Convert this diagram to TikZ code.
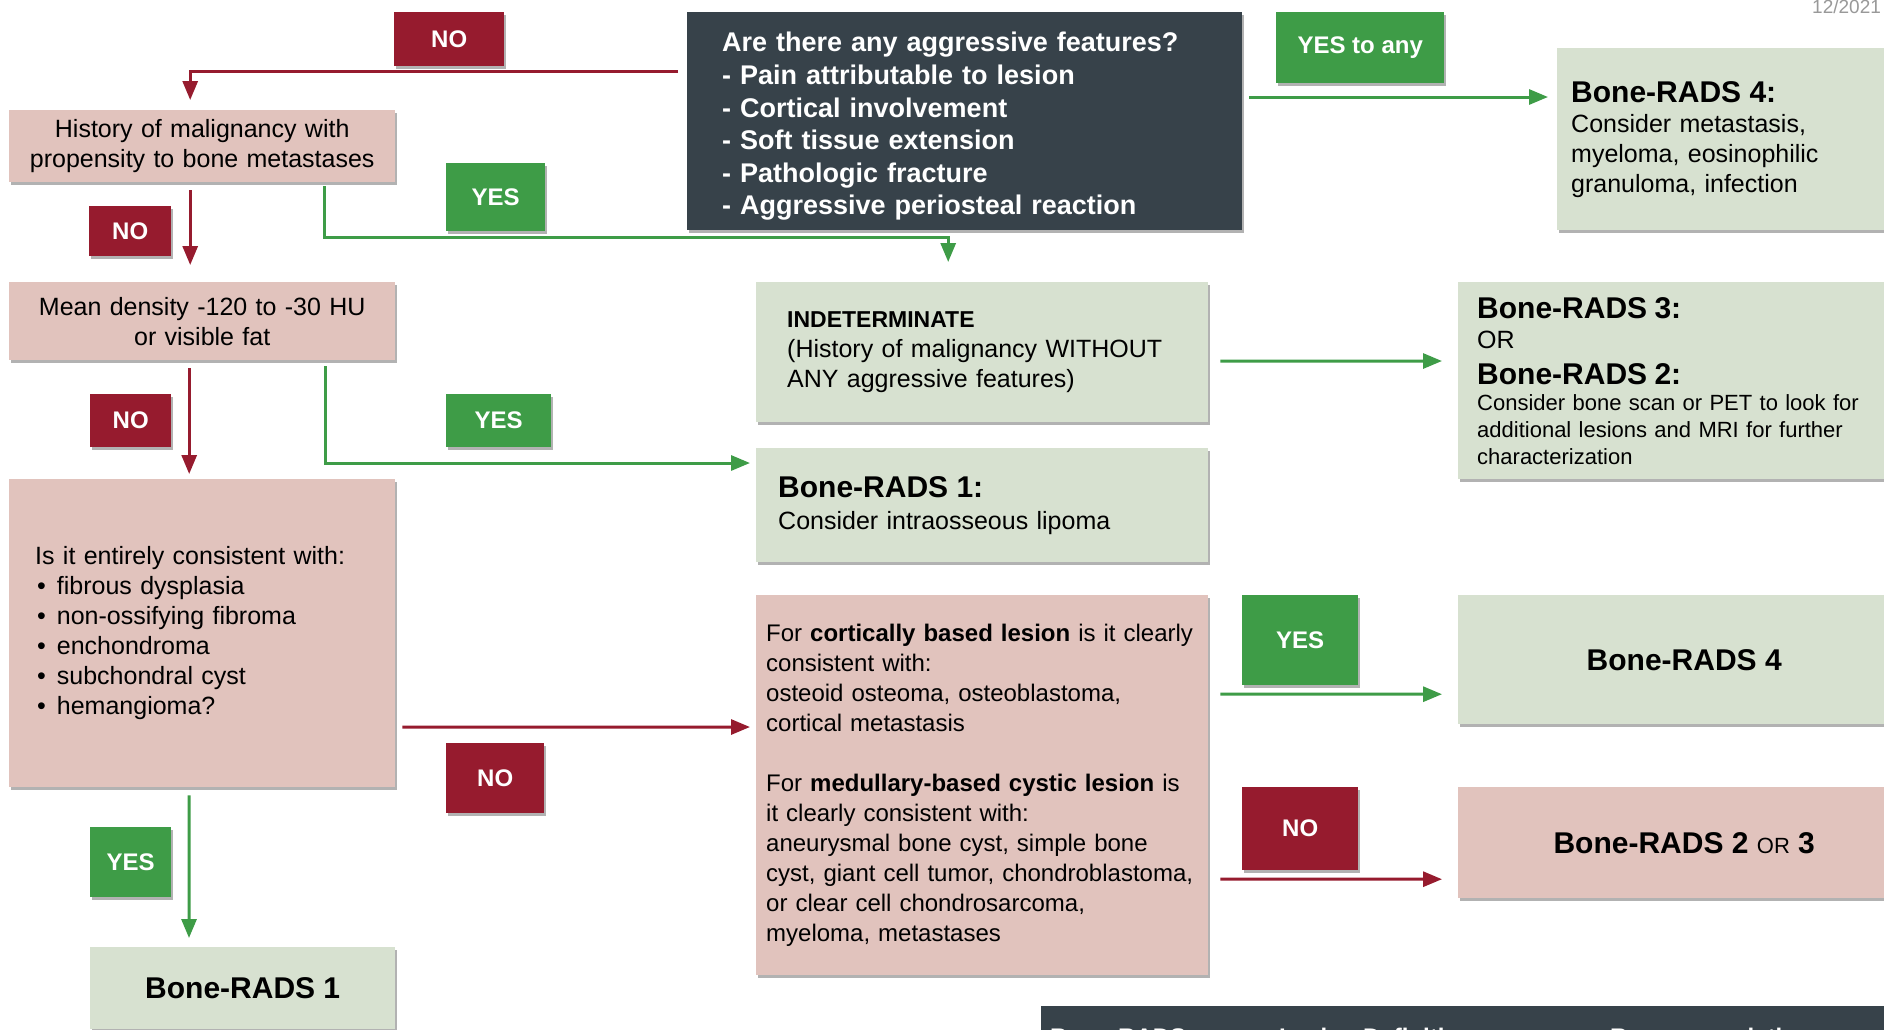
\documentclass[tikz,border=0pt]{standalone}
\usepackage{fontspec}
\setmainfont{Liberation Sans}
\usetikzlibrary{arrows.meta,shadows}
\definecolor{slate}{RGB}{55,66,74}
\definecolor{bonered}{RGB}{150,27,46}
\definecolor{yesgreen}{RGB}{62,156,71}
\definecolor{bonepink}{RGB}{225,195,189}
\definecolor{bonegreen}{RGB}{215,225,208}
\newcommand{\setfs}[2]{\fontsize{#1}{#2}\selectfont}

\begin{document}
\begin{tikzpicture}[x=1pt,y=-1pt,
  boxshadow/.style={drop shadow={shadow xshift=2pt,shadow yshift=-2.5pt,opacity=.3,fill=black}},
  pinkbox/.style={boxshadow,fill=bonepink,anchor=north west,inner ysep=0pt,font=\setfs{25}{30}},
  greenbox/.style={boxshadow,fill=bonegreen,anchor=north west,inner ysep=0pt,font=\setfs{25}{30}},
  darkbox/.style={boxshadow,fill=slate,text=white,anchor=north west,inner ysep=0pt},
  nolbl/.style={boxshadow,fill=bonered,text=white,anchor=north west,font=\setfs{24}{24}\bfseries},
  yeslbl/.style={boxshadow,fill=yesgreen,text=white,anchor=north west,font=\setfs{24}{24}\bfseries},
  noarr/.style={draw=bonered,line width=3pt,-{Triangle[length=19pt,width=15pt]}},
  yesarr/.style={draw=yesgreen,line width=3pt,-{Triangle[length=19pt,width=15pt]}}]
\useasboundingbox (0,0) rectangle (1884,1029);
\clip (0,0) rectangle (1884,1029);
\fill[white] (0,0) rectangle (1884,1029);

% question boxes
\node[darkbox,minimum width=555pt,minimum height=218pt,text width=485pt,inner xsep=35pt,align=left,font=\setfs{27}{32.6}\bfseries] (aggr) at (687,12) {\rule{0pt}{30pt}Are there any aggressive features?\\- Pain attributable to lesion\\- Cortical involvement\\- Soft tissue extension\\- Pathologic fracture\\- Aggressive periosteal reaction};
\node[pinkbox,minimum width=386pt,minimum height=72pt,text width=370pt,inner xsep=8pt,align=center] (hist) at (9,110) {History of malignancy with\\propensity to bone metastases};
\node[pinkbox,minimum width=386pt,minimum height=78pt,text width=370pt,inner xsep=8pt,align=center] (mean) at (9,282) {Mean density -120 to -30 HU\\or visible fat};
\node[pinkbox,minimum width=386pt,minimum height=308pt,text width=334pt,inner xsep=26pt,align=left] (cons) at (9,479) {Is it entirely consistent with:\\
\hspace*{2pt}\textbullet\hspace{11pt}fibrous dysplasia\\
\hspace*{2pt}\textbullet\hspace{11pt}non-ossifying fibroma\\
\hspace*{2pt}\textbullet\hspace{11pt}enchondroma\\
\hspace*{2pt}\textbullet\hspace{11pt}subchondral cyst\\
\hspace*{2pt}\textbullet\hspace{11pt}hemangioma?};
\node[pinkbox,minimum width=452pt,minimum height=380pt,text width=432pt,inner xsep=10pt,align=left,font=\setfs{24}{30}] (cort) at (756,595) {For \textbf{cortically based lesion} is it clearly\\
consistent with:\\
osteoid osteoma, osteoblastoma,\\
cortical metastasis\\[30pt]
For \textbf{medullary-based cystic lesion} is\\
it clearly consistent with:\\
aneurysmal bone cyst, simple bone\\
cyst, giant cell tumor, chondroblastoma,\\
or clear cell chondrosarcoma,\\
myeloma, metastases};

% results
\node[greenbox,minimum width=353pt,minimum height=182pt,text width=325pt,inner xsep=14pt,align=left] (brfourtop) at (1557,48) {{\setfs{30}{30}\bfseries Bone-RADS 4:}\\Consider metastasis,\\myeloma, eosinophilic\\granuloma, infection};
\node[greenbox,minimum width=452pt,minimum height=140pt,text width=390pt,inner xsep=31pt,align=left] (indet) at (756,282) {{\setfs{23}{30}\bfseries INDETERMINATE}\\(History of malignancy WITHOUT\\ANY aggressive features)};
\node[greenbox,minimum width=452pt,minimum height=114pt,text width=408pt,inner xsep=22pt,align=left,font=\setfs{25}{32}] (brone) at (756,448) {{\setfs{30}{32}\bfseries Bone-RADS 1:}\\Consider intraosseous lipoma};
\node[greenbox,minimum width=452pt,minimum height=197pt,text width=414pt,inner xsep=19pt,align=left,font=\setfs{22}{27}] (brthree) at (1458,282) {{\setfs{30}{30}\bfseries Bone-RADS 3:}\\[3pt]
{\setfs{25}{25}OR}\\[9pt]
{\setfs{30}{30}\bfseries Bone-RADS 2:}\\[-1pt]
Consider bone scan or PET to look for\\
additional lesions and MRI for further\\
characterization};
\node[greenbox,minimum width=452pt,minimum height=129pt,font=\setfs{30}{30}\bfseries] (brfour) at (1458,595) {Bone-RADS 4};
\node[pinkbox,minimum width=452pt,minimum height=111pt,font=\setfs{30}{30}\bfseries] (brtwo) at (1458,787) {Bone-RADS 2 {\setfs{22}{22}\mdseries OR} 3};
\node[greenbox,minimum width=305pt,minimum height=82pt,font=\setfs{30}{30}\bfseries] (brbot) at (90,947) {Bone-RADS 1};

% table header, cut off at the bottom
\node[darkbox,minimum width=860pt,minimum height=60pt] (legend) at (1041,1006) {};
\node[anchor=base west,text=white,font=\setfs{24}{24}\bfseries,inner sep=0pt] (lgrads) at (1050,1045) {Bone-RADS};
\node[anchor=base west,text=white,font=\setfs{24}{24}\bfseries,inner sep=0pt] (lgdef) at (1279,1045) {Lesion Definition};
\node[anchor=base west,text=white,font=\setfs{24}{24}\bfseries,inner sep=0pt] (lgrec) at (1610,1045) {Recommendation};
\node[anchor=base west,text=black!40,font=\setfs{19}{19},inner sep=0pt] (date) at (1812,13) {12/2021};

% labels
\node[nolbl,minimum width=110pt,minimum height=54pt] (noa) at (394,12) {NO};
\node[yeslbl,minimum width=99pt,minimum height=68pt] (yesa) at (446,163) {YES};
\node[nolbl,minimum width=82pt,minimum height=50pt] (nob) at (89,206) {NO};
\node[nolbl,minimum width=81pt,minimum height=53pt] (noc) at (90,394) {NO};
\node[yeslbl,minimum width=105pt,minimum height=53pt] (yesb) at (446,394) {YES};
\node[nolbl,minimum width=98pt,minimum height=70pt] (nod) at (446,743) {NO};
\node[yeslbl,minimum width=81pt,minimum height=70pt] (yesc) at (90,827) {YES};
\node[yeslbl,minimum width=168pt,minimum height=71pt] (yesany) at (1276,12) {YES to any};
\node[yeslbl,minimum width=116pt,minimum height=90pt] (yesd) at (1242,595) {YES};
\node[nolbl,minimum width=116pt,minimum height=83pt] (noe) at (1242,787) {NO};

% connectors
\draw[noarr] ([xshift=-9pt,yshift=-59pt]aggr.north west) -| ([xshift=-12pt,yshift=10pt]hist.north);
\draw[yesarr] ([xshift=7pt,yshift=-85pt]aggr.north east) -- ([xshift=-9pt,yshift=-49pt]brfourtop.north west);
\draw[noarr] ([xshift=-12pt,yshift=-8pt]hist.south) -- ([xshift=-12pt,yshift=17pt]mean.north);
\draw[yesarr] ([xshift=-71pt,yshift=-4pt]hist.south east) -- ++(0,51) -| ([xshift=-34pt,yshift=20pt]indet.north);
\draw[yesarr] ([xshift=-70pt,yshift=-6pt]mean.south east) |- ([xshift=-6pt,yshift=-15pt]brone.north west);
\draw[noarr] ([xshift=-13pt,yshift=-8pt]mean.south) -- ([xshift=-13pt,yshift=5pt]cons.north);
\draw[noarr] ([xshift=7pt,yshift=-94pt]cons.east) -- ([xshift=-6pt,yshift=-132pt]cort.north west);
\draw[yesarr] ([xshift=-13pt,yshift=-8pt]cons.south) -- ([xshift=99pt,yshift=9pt]brbot.north west);
\draw[yesarr] ([xshift=12pt,yshift=-9pt]indet.east) -- ([xshift=-16pt,yshift=-79pt]brthree.north west);
\draw[yesarr] ([xshift=12pt,yshift=-99pt]cort.north east) -- ([xshift=-16pt,yshift=-34.5pt]brfour.west);
\draw[noarr] ([xshift=12pt,yshift=-284pt]cort.north east) -- ([xshift=-16pt,yshift=-36.5pt]brtwo.west);
\end{tikzpicture}
\end{document}
